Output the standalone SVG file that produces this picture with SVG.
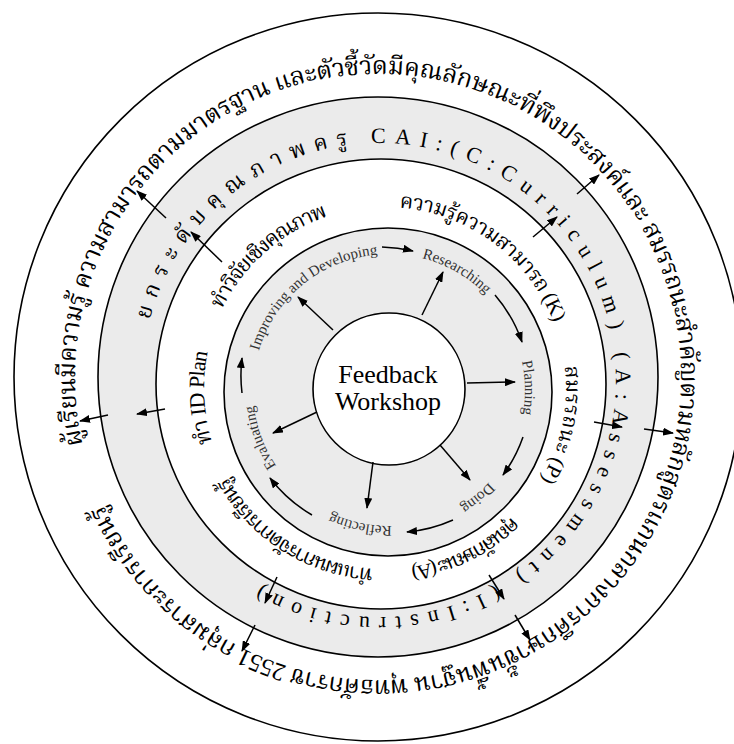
<svg xmlns="http://www.w3.org/2000/svg" width="734" height="744" viewBox="0 0 734 744">
<style>
.ring{stroke:#000;stroke-width:1.6}
.th{font-family:'Liberation Serif','Noto Serif Thai','Noto Sans Thai',Loma,Garuda,serif;fill:#000}
.lbl{font-family:'Liberation Serif',serif;font-size:15px;fill:#333}
.arr{stroke:#000;stroke-width:1.5;fill:none;marker-end:url(#ah)}
</style>
<defs>
<marker id="ah" viewBox="0 0 11 8" refX="10" refY="4" markerWidth="11" markerHeight="8" markerUnits="userSpaceOnUse" orient="auto"><path d="M0,0 L11,4 L0,8 z" fill="#000"/></marker>
<path id="pOuter" d="M681,377 A303,303 0 1 1 75,377 A303,303 0 1 1 681,377 A303,303 0 1 1 75,377 A303,303 0 1 1 681,377"/>
<path id="pBand" d="M616,380 A237,237 0 1 1 142,380 A237,237 0 1 1 616,380 A237,237 0 1 1 142,380 A237,237 0 1 1 616,380"/>
<path id="pWhite" d="M566,388 A181,181 0 1 1 204,388 A181,181 0 1 1 566,388 A181,181 0 1 1 204,388 A181,181 0 1 1 566,388"/>
<path id="pInner" d="M525,390 A136,136 0 1 1 253,390 A136,136 0 1 1 525,390 A136,136 0 1 1 253,390 A136,136 0 1 1 525,390"/>
</defs>
<rect width="734" height="744" fill="#fff"/>
<g id="outer-ring">
<circle class="ring" cx="378" cy="377" r="364" fill="#fff"/>
<text class="th" font-size="25"><textPath href="#pOuter" startOffset="883" textLength="1840" lengthAdjust="spacing">ผู้เรียนมีความรู้ ความสามารถตามมาตรฐาน และตัวชี้วัดมีคุณลักษณะที่พึงประสงค์และ สมรรถนะสำคัญตามหลักสูตรแกนกลางการศึกษาขั้นพื้นฐาน พุทธศักราช 2551 กลุ่มสาระการเรียนรู้</textPath></text>
</g>
<g id="cai-ring">
<circle class="ring" cx="378" cy="377" r="280" fill="#ebebeb"/>
<text class="th" font-size="22"><textPath href="#pBand" startOffset="805" textLength="1180" lengthAdjust="spacing">ยกระดับคุณภาพครู CAI:(C:Curriculum) (A:Assessment) (I:Instruction)</textPath></text>
</g>
<g id="kpa-ring">
<circle class="ring" cx="381" cy="384" r="225" fill="#fff"/>
<text class="th" font-size="21"><textPath href="#pWhite" startOffset="648" textLength="145" lengthAdjust="spacing">ทำวิจัยเชิงคุณภาพ</textPath></text>
<text class="th" font-size="21"><textPath href="#pWhite" startOffset="867" textLength="203" lengthAdjust="spacing">ความรู้ความสามารถ (K)</textPath></text>
<text class="th" font-size="21"><textPath href="#pWhite" startOffset="1115" textLength="118" lengthAdjust="spacing">สมรรถนะ (P)</textPath></text>
<text class="th" font-size="21"><textPath href="#pWhite" startOffset="141" textLength="115" lengthAdjust="spacing">คุณลักษณะ (A)</textPath></text>
<text class="th" font-size="21"><textPath href="#pWhite" startOffset="294" textLength="180" lengthAdjust="spacing">ทำแผนการจัดการเรียนรู้</textPath></text>
<text class="th" font-size="22"><textPath href="#pWhite" startOffset="512" textLength="92" lengthAdjust="spacing">ทำ ID Plan</textPath></text>
</g>
<g id="cycle-ring">
<circle class="ring" cx="388" cy="392" r="164" fill="#ebebeb"/>
<text class="lbl" text-anchor="middle"><textPath href="#pInner" startOffset="548">Improving and Developing</textPath></text>
<text class="lbl" text-anchor="middle"><textPath href="#pInner" startOffset="711">Researching</textPath></text>
<text class="lbl" text-anchor="middle"><textPath href="#pInner" startOffset="852">Planning</textPath></text>
<text class="lbl" text-anchor="middle"><textPath href="#pInner" startOffset="120">Doing</textPath></text>
<text class="lbl" text-anchor="middle"><textPath href="#pInner" startOffset="242">Reflecting</textPath></text>
<text class="lbl" text-anchor="middle"><textPath href="#pInner" startOffset="379">Evaluating</textPath></text>
</g>
<g id="feedback-workshop">
<circle class="ring" cx="389" cy="389" r="76" fill="#fff"/>
<text x="388" y="383" text-anchor="middle" font-family="'Liberation Serif',serif" font-size="26">Feedback</text>
<text x="388" y="410" text-anchor="middle" font-family="'Liberation Serif',serif" font-size="26">Workshop</text>
</g>
<g id="connectors">
<path class="arr" d="M333,330 L298,297"/>
<path class="arr" d="M422,315 L443,272"/>
<path class="arr" d="M467,383 L515,382"/>
<path class="arr" d="M440,445 L470,480"/>
<path class="arr" d="M373,462 L367,508"/>
<path class="arr" d="M317,412 L273,433"/>
<path class="arr" d="M382,247 A144,144 0 0 1 413,251"/>
<path class="arr" d="M495,295 A144,144 0 0 1 522,342"/>
<path class="arr" d="M523,437 A144,144 0 0 1 503,475"/>
<path class="arr" d="M453,520 A144,144 0 0 1 407,532"/>
<path class="arr" d="M312,515 A144,144 0 0 1 270,478"/>
<path class="arr" d="M242,393 A144,144 0 0 1 242,358"/>
<path class="arr" d="M222,262 L191,232"/>
<path class="arr" d="M166,218 L137,191"/>
<path class="arr" d="M533,237 L557,217"/>
<path class="arr" d="M577,194 L599,175"/>
<path class="arr" d="M594,422 L622,427"/>
<path class="arr" d="M644,429 L673,433"/>
<path class="arr" d="M489,575 L504,599"/>
<path class="arr" d="M515,615 L530,640"/>
<path class="arr" d="M277,577 L265,603"/>
<path class="arr" d="M255,625 L242,651"/>
<path class="arr" d="M165,409 L137,414"/>
<path class="arr" d="M108,415 L80,421"/>
</g>
</svg>
